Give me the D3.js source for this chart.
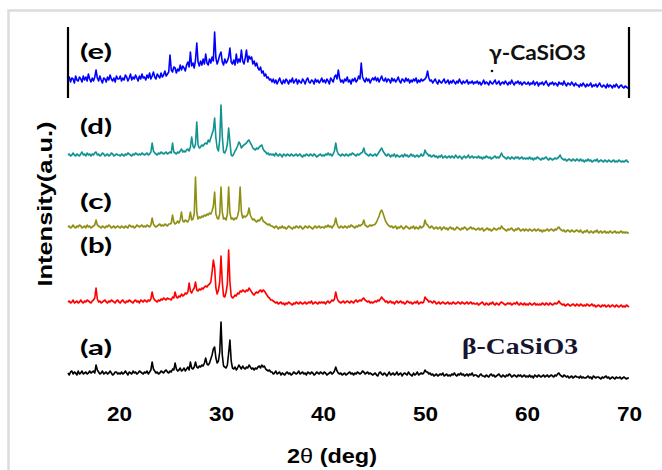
<!DOCTYPE html>
<html>
<head>
<meta charset="utf-8">
<script src="https://cdn.jsdelivr.net/npm/d3@7"></script>
<style>
  html, body { margin: 0; padding: 0; background: #fff; }
  svg { display: block; }
</style>
</head>
<body>
<svg id="chart" width="662" height="470"></svg>
<script>
// 2θ grid: 15° to 70°, step 0.125°
const thetaStart = 15;
const thetaEnd = 70;
const thetaStep = 0.125;

const xTicks = [20, 30, 40, 50, 60, 70];

const sampleNames = ['(a)', '(b)', '(c)', '(d)', '(e)'];
const sampleOffsets = [5, 78, 152, 224, 298];
const phaseLabels = ['β-CaSiO3', 'γ-CaSiO3'];

// intensities (a.u.), one value per grid step, one row per 5°
const intensityA = [
  12,10,13,14,11,13,12,10,14,11,12,14,11,12,13,11,12,14,12,13, 14,12,20,15,13,11,12,14,11,12,13,11,12,14,12,10,11,13,13,11,
  12,11,13,11,12,14,12,10,13,12,11,14,12,13,11,12,14,13,12,11, 13,12,14,11,13,15,23,16,14,12,13,11,12,14,13,12,14,15,13,12,
  14,13,16,15,22,16,14,15,17,14,15,17,14,16,18,15,23,17,16,18, 23,18,17,19,18,20,19,22,27,21,20,22,26,30,36,38,27,22,24,33,
  63,30,19,18,17,20,32,45,24,17,16,18,15,17,20,18,16,19,17,16, 18,17,20,18,16,17,15,17,16,18,19,17,20,18,19,16,15,14,15,13,
  13,11,12,14,11,12,13,10,12,11,10,12,13,11,12,10,11,13,12,11, 12,14,11,12,13,11,12,10,13,12,11,13,12,10,11,13,12,11,13,12,
  11,13,12,10,11,12,13,11,12,14,18,14,12,11,12,10,11,12,10,11, 12,13,11,12,10,12,11,13,12,11,12,14,13,11,12,13,11,12,11,10,
  11,12,10,9,12,13,11,10,12,11,9,11,13,10,11,12,10,11,13,10, 11,12,9,11,12,11,10,13,11,10,9,12,10,11,13,10,11,12,11,12,
  15,13,13,11,12,10,11,9,10,11,9,10,11,10,12,9,10,11,9,10, 9,11,10,12,10,9,11,10,12,10,11,9,10,11,9,11,10,12,9,10,
  10,9,8,10,11,9,9,8,10,9,8,10,11,9,10,8,9,10,11,9, 8,10,9,8,10,9,11,10,8,9,10,9,8,10,9,10,8,9,10,8,
  9,8,10,8,9,7,10,9,8,10,9,8,9,10,8,9,10,8,9,10, 9,8,10,9,11,12,10,9,8,10,9,8,9,7,8,9,7,8,9,8,
  8,7,9,7,8,7,7,8,9,7,8,6,9,8,7,8,8,7,6,8, 7,8,9,7,8,6,7,8,7,6,8,7,7,8,6,7,8,7,6,7,
  7
];

const intensityB = [
  10,11,9,10,12,9,10,11,9,10,12,10,9,11,10,12,11,10,9,11, 12,14,24,13,10,11,9,10,11,12,10,9,11,10,12,11,10,9,11,12,
  10,9,11,12,10,9,11,10,12,11,10,9,11,12,10,11,9,12,11,10, 12,11,10,12,11,13,20,14,12,11,10,12,11,13,12,14,13,12,14,13,
  13,12,15,14,20,15,14,16,15,18,16,17,19,18,20,29,21,19,22,24, 30,22,21,23,22,24,23,25,26,25,27,28,30,40,52,44,24,18,22,30,
  56,30,16,15,20,28,62,30,16,14,15,17,16,19,18,21,20,22,21,20, 22,21,24,22,20,18,17,19,20,19,21,22,20,22,21,19,17,15,14,12,
  12,11,10,9,10,8,9,10,8,9,7,9,8,10,9,8,7,9,8,10, 9,8,10,9,8,9,10,8,9,10,9,11,8,9,10,9,8,10,9,10,
  9,10,8,10,11,9,10,12,11,13,20,14,11,10,9,10,11,9,10,11, 10,9,11,10,9,11,12,10,11,12,11,13,14,12,11,10,11,9,10,9,
  10,11,10,12,11,13,15,13,12,10,11,9,10,11,9,10,8,10,11,9, 10,11,9,10,8,9,11,10,9,10,8,9,10,9,11,8,9,10,9,10,
  15,13,12,10,11,10,9,11,10,8,9,10,8,9,10,9,8,9,10,8, 9,8,10,9,8,9,10,9,8,10,9,8,9,10,8,9,10,8,9,8,
  8,9,7,8,9,10,8,7,9,8,7,9,8,10,8,7,9,8,7,9, 10,9,8,7,8,9,8,9,7,8,9,8,10,8,7,9,8,7,9,7,
  8,7,9,8,7,8,9,7,8,7,8,7,9,8,7,9,8,7,9,8, 7,8,9,8,9,11,9,8,7,8,6,7,8,7,6,7,8,7,6,8,
  7,6,8,7,6,7,6,8,7,6,7,8,6,7,5,6,7,6,5,7, 6,7,5,6,7,5,6,7,6,5,7,6,5,6,7,5,6,5,7,6,
  5
];

const intensityC = [
  11,12,10,11,13,11,10,12,11,13,12,10,11,12,10,13,11,12,10,11, 12,13,18,13,12,11,10,12,11,10,12,11,13,12,10,11,12,10,11,12,
  11,10,12,11,10,12,11,10,13,12,11,12,10,11,13,12,11,12,13,11, 12,11,13,12,11,13,20,14,12,11,12,13,14,12,13,12,14,13,12,14,
  14,15,23,16,14,15,17,15,18,26,17,16,18,17,16,19,26,18,19,24, 61,26,19,21,20,22,21,23,22,24,23,25,24,27,32,46,24,20,19,24,
  51,26,19,20,18,24,51,25,19,20,18,20,19,22,28,51,26,20,22,21, 22,24,30,23,20,18,19,17,16,18,17,19,21,17,16,15,14,13,14,12,
  12,11,10,12,11,9,11,10,12,10,11,9,10,12,11,10,9,11,10,12, 11,10,12,11,9,10,12,11,10,12,11,10,9,11,12,10,11,12,10,11,
  11,10,12,11,13,11,12,10,12,14,20,14,11,10,12,11,10,12,11,10, 12,11,13,12,11,10,12,11,13,12,13,14,18,13,12,11,12,13,12,13,
  13,14,16,19,22,26,28,25,21,17,15,13,12,11,12,10,11,12,9,11, 10,12,11,9,10,12,11,10,9,11,10,12,9,11,10,9,12,10,11,12,
  18,14,13,11,10,12,11,9,10,11,9,10,11,8,10,11,9,10,8,10, 11,9,10,8,9,11,10,9,8,10,9,11,10,8,9,10,11,9,10,9,
  8,9,10,8,9,10,7,8,9,10,8,9,7,8,10,9,8,9,10,9, 12,10,9,8,7,9,8,9,10,8,7,9,8,10,9,7,8,9,7,9,
  8,7,9,8,7,8,9,7,8,9,7,8,6,8,7,8,9,7,8,9, 8,7,9,8,10,11,9,8,7,8,6,7,8,7,6,8,7,6,7,8,
  7,6,8,6,5,7,6,8,6,5,7,6,5,7,6,8,5,6,7,5, 6,7,5,6,5,7,6,5,6,7,5,6,5,6,7,5,6,5,6,5,
  5
];

const intensityD = [
  11,12,10,11,13,11,10,12,11,10,12,14,11,12,10,13,11,12,10,12, 11,13,14,11,12,10,11,13,12,10,11,12,10,11,13,12,10,11,12,11,
  11,10,12,11,10,12,11,13,12,11,10,12,11,13,12,11,12,11,13,12, 11,12,13,11,12,14,23,15,13,12,11,13,12,14,13,12,13,14,12,13,
  14,13,23,14,13,12,14,13,15,17,14,15,14,16,17,15,19,29,20,18, 22,44,21,18,19,21,20,22,23,22,26,24,28,32,36,48,28,18,15,26,
  61,30,14,13,16,22,38,24,11,10,12,15,17,20,24,22,18,20,21,22, 23,25,26,23,21,18,17,16,18,17,19,20,21,17,15,14,12,13,11,12,
  11,12,10,13,11,10,12,11,9,12,11,10,12,11,10,12,11,10,11,12, 10,11,12,10,9,11,10,12,11,10,12,11,10,12,11,9,10,11,12,10,
  11,10,12,11,13,11,12,10,12,15,23,15,12,11,10,12,11,10,12,11, 10,12,11,13,12,11,10,12,11,12,13,14,18,13,12,11,10,12,11,10,
  11,12,10,12,14,16,18,15,13,11,10,12,11,9,11,10,12,9,11,10, 9,10,11,9,12,10,11,9,10,12,10,11,9,10,11,9,10,12,10,11,
  16,13,12,10,11,9,10,11,9,10,8,10,9,11,8,9,10,8,9,10, 8,10,9,8,11,9,8,10,9,7,9,10,8,9,11,8,9,10,8,9,
  9,8,10,8,9,7,9,8,10,9,8,9,7,8,9,10,8,9,8,10, 13,10,9,8,7,9,8,7,9,8,7,9,8,9,7,8,9,7,8,7,
  8,7,9,7,8,6,8,7,9,8,7,6,8,7,8,9,7,6,8,7, 6,7,8,7,8,9,11,8,7,6,7,5,6,7,6,5,7,6,5,7,
  6,5,7,5,6,4,6,5,7,5,6,4,5,6,5,7,4,5,6,5, 4,6,5,4,6,5,4,5,6,4,5,4,6,5,4,5,4,5,6,4,
  4
];

const intensityE = [
  12,15,10,14,13,9,16,12,11,15,13,10,16,12,15,11,18,13,10,14, 11,15,22,14,11,16,12,9,14,13,10,15,12,17,13,11,14,10,16,13,
  13,16,11,14,12,17,15,11,14,18,12,15,13,17,14,11,16,13,18,14, 15,12,17,14,19,13,16,20,15,13,18,16,14,19,15,17,21,16,18,20,
  37,22,20,25,24,19,23,21,27,22,26,24,21,27,30,25,40,26,29,24, 32,49,30,26,31,27,33,28,38,29,27,33,29,35,31,60,34,28,32,37,
  40,30,27,33,29,31,35,44,30,28,32,27,38,29,33,30,42,31,28,34, 42,30,36,33,35,28,31,26,29,24,22,25,19,21,16,18,14,15,12,13,
  10,13,9,12,8,11,14,10,8,12,9,13,11,8,12,10,14,9,11,13, 8,12,10,9,13,11,8,12,14,10,9,12,11,8,13,10,12,9,11,14,
  10,12,9,13,11,8,14,12,10,15,17,13,22,14,10,12,9,13,11,15, 10,12,8,13,11,14,10,12,16,13,29,15,12,10,14,11,13,9,12,14,
  12,15,11,14,10,13,16,12,11,14,10,13,12,9,14,11,13,10,12,15, 11,9,13,12,10,14,11,13,9,12,10,13,11,14,9,12,10,13,11,12,
  13,15,21,14,11,12,9,11,13,10,8,12,10,9,11,13,9,10,12,8, 11,9,12,10,8,11,9,13,10,8,11,9,10,12,8,10,9,11,8,10,
  9,11,8,10,7,9,12,8,10,9,7,11,9,8,10,12,8,9,11,7, 9,10,8,11,9,7,10,8,12,9,7,10,9,11,8,10,7,9,10,8,
  8,10,7,9,8,11,7,9,10,6,9,8,10,7,9,11,8,6,9,8, 10,7,9,8,6,10,8,9,7,11,8,6,9,8,7,10,8,6,9,7,
  7,5,8,6,9,7,5,8,6,7,9,5,7,6,8,5,7,9,6,5, 7,6,4,8,5,7,6,4,7,5,8,6,4,6,7,5,4,6,5,4,
  4
];

const sampleIntensities = [intensityA, intensityB, intensityC, intensityD, intensityE];
const sampleColors = ['#000000', '#ff0000', '#8f8f14', '#139292', '#0000ff'];

// ---- layout ----
const svg = d3.select('#chart');
const width = 662, height = 470;

// light frame of the pasted figure
svg.append('rect')
  .attr('x', 8.5).attr('y', 10.5)
  .attr('width', width + 10).attr('height', height + 10)
  .attr('fill', '#fff')
  .attr('stroke', '#dcdcdc')
  .attr('stroke-width', 2.5);

const x = d3.scaleLinear().domain([thetaStart, thetaEnd]).range([68, 629]);
const y = d3.scaleLinear().domain([0, 360]).range([390, 30]);

const line = d3.line()
  .x(d => x(d[0]))
  .y(d => y(d[1]));

// traces, stacked with an offset each
sampleIntensities.forEach((vals, k) => {
  const pts = vals.map((v, i) => [thetaStart + i * thetaStep, v + sampleOffsets[k]]);
  svg.append('path')
    .attr('d', line(pts))
    .attr('fill', 'none')
    .attr('stroke', sampleColors[k])
    .attr('stroke-width', 1.6)
    .attr('stroke-linejoin', 'round');
});

// brackets around the top trace
[thetaStart, thetaEnd].forEach(t => {
  svg.append('line')
    .attr('x1', x(t)).attr('x2', x(t))
    .attr('y1', y(292)).attr('y2', y(363))
    .attr('stroke', '#000')
    .attr('stroke-width', 2.2);
});

// x axis, labels only
const xAxis = d3.axisBottom(x).tickValues(xTicks).tickSize(0).tickPadding(0).tickFormat(d3.format('d'));
const gx = svg.append('g')
  .attr('transform', 'translate(0,421)')
  .call(xAxis);
gx.select('.domain').remove();
gx.selectAll('text')
  .attr('y', 0)
  .attr('dy', 0)
  .attr('transform', 'scale(1.13,1)')
  .style('font-family', '"Liberation Sans", Arial, sans-serif')
  .style('font-weight', 'bold')
  .style('font-size', '20px')
  .attr('fill', '#000');

// axis titles
const xt = svg.append('text')
  .attr('x', 332).attr('y', 463)
  .attr('text-anchor', 'middle')
  .attr('textLength', 90)
  .attr('lengthAdjust', 'spacingAndGlyphs')
  .style('font-family', '"Liberation Sans", Arial, sans-serif')
  .style('font-weight', 'bold')
  .style('font-size', '20px');
xt.append('tspan').text('2');
xt.append('tspan').style('font-weight', 'normal').text('θ');
xt.append('tspan').text(' (deg)');

svg.append('text')
  .attr('transform', 'translate(52,204) rotate(-90)')
  .attr('text-anchor', 'middle')
  .attr('textLength', 165)
  .attr('lengthAdjust', 'spacingAndGlyphs')
  .style('font-family', '"Liberation Sans", Arial, sans-serif')
  .style('font-weight', 'bold')
  .style('font-size', '21px')
  .text('Intensity(a.u.)');

// sample labels
const labelBaselines = [355, 253, 209, 134, 59];
sampleNames.forEach((name, k) => {
  svg.append('text')
    .attr('x', 80).attr('y', labelBaselines[k])
    .attr('textLength', 32)
    .attr('lengthAdjust', 'spacingAndGlyphs')
    .style('font-family', 'Lato, "Open Sans", sans-serif')
    .style('font-weight', 'bold')
    .style('font-size', '21px')
    .attr('fill', '#000')
    .text(name);
});

// phase labels
svg.append('text')
  .attr('x', 462).attr('y', 354)
  .attr('textLength', 116)
  .attr('lengthAdjust', 'spacingAndGlyphs')
  .style('font-family', '"Liberation Serif", "Times New Roman", serif')
  .style('font-weight', 'bold')
  .style('font-size', '24px')
  .attr('fill', '#15152e')
  .text(phaseLabels[0]);

svg.append('text')
  .attr('x', 489).attr('y', 60)
  .attr('textLength', 97)
  .attr('lengthAdjust', 'spacingAndGlyphs')
  .style('font-family', 'Lato, "Open Sans", sans-serif')
  .style('font-size', '21px')
  .style('font-weight', 'bold')
  .attr('fill', '#111')
  .text(phaseLabels[1]);

// stray dot under the γ label
svg.append('circle')
  .attr('cx', 492).attr('cy', 71).attr('r', 1.3)
  .attr('fill', '#111');
</script>
</body>
</html>
